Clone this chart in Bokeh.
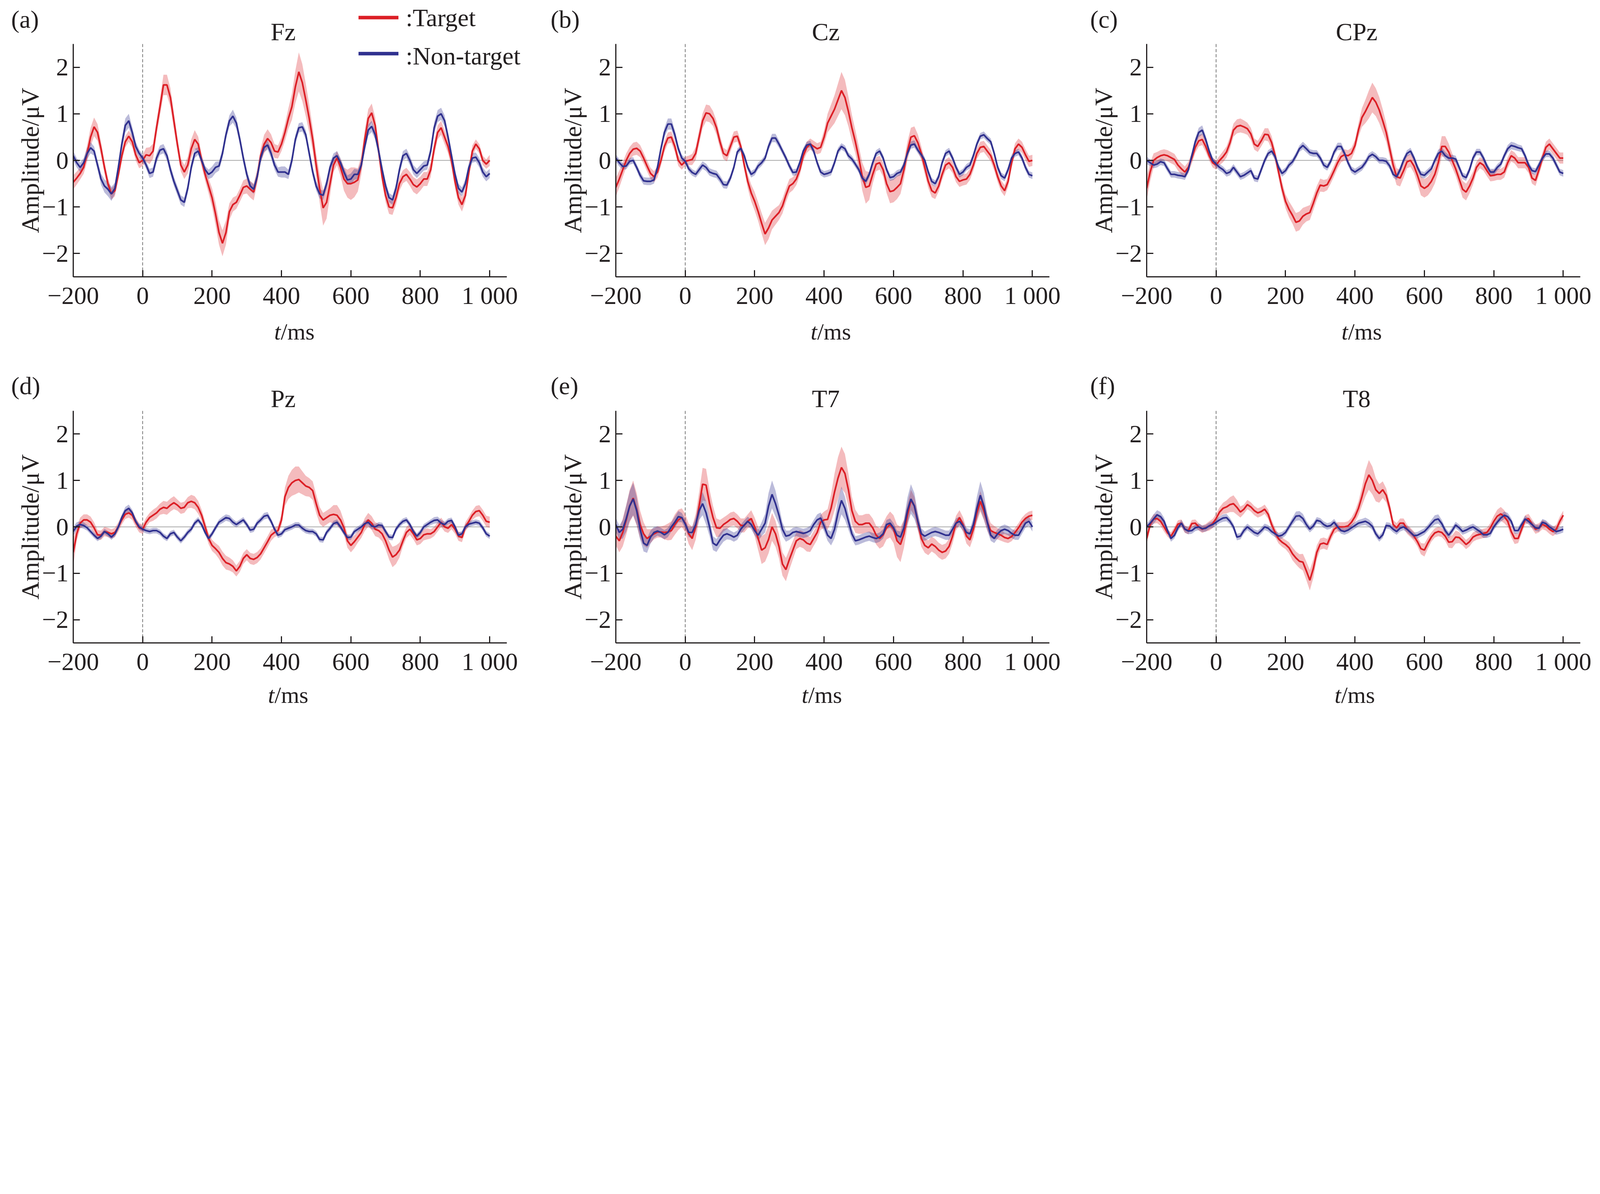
from bokeh.plotting import figure
from bokeh.models import Range1d, FixedTicker, Span, Label, Arrow, ColumnDataSource
from bokeh.layouts import column, row
from bokeh.embed import file_html
from bokeh.resources import INLINE

# ---------------- data ----------------
T_MS = list(range(-200, 1001, 10))
X_TICKS = [-200, 0, 200, 400, 600, 800, 1000]
X_TICK_LABELS = ["\u2212200", "0", "200", "400", "600", "800", "1 000"]
Y_TICKS = [-2, -1, 0, 1, 2]
Y_TICK_LABELS = ["\u22122", "\u22121", "0", "1", "2"]
CHANNELS = ["Fz", "Cz", "CPz", "Pz", "T7", "T8"]
LETTERS = ["(a)", "(b)", "(c)", "(d)", "(e)", "(f)"]
SERIES_NAMES = [":Target", ":Non-target"]

FZ_T = [-0.47,-0.38,-0.28,-0.15,0.15,0.50,0.72,0.60,0.25,-0.15,
        -0.50,-0.72,-0.65,-0.30,0.10,0.40,0.52,0.40,0.12,-0.05,
        0.00,0.12,0.10,0.20,0.70,1.15,1.62,1.62,1.35,0.85,
        0.35,-0.10,-0.25,-0.10,0.25,0.45,0.35,0.00,-0.30,-0.55,
        -0.80,-1.15,-1.55,-1.78,-1.55,-1.10,-0.95,-0.90,-0.75,-0.58,
        -0.55,-0.62,-0.68,-0.35,0.10,0.35,0.47,0.38,0.20,0.18,
        0.35,0.60,0.90,1.15,1.58,1.90,1.67,1.30,0.90,0.45,
        -0.10,-0.60,-1.02,-0.90,-0.50,-0.10,0.05,-0.15,-0.40,-0.50,
        -0.50,-0.47,-0.42,-0.10,0.45,0.90,1.02,0.75,0.20,-0.35,
        -0.75,-1.00,-1.02,-0.80,-0.50,-0.35,-0.30,-0.40,-0.52,-0.57,
        -0.50,-0.40,-0.40,-0.20,0.25,0.60,0.70,0.50,0.30,0.00,
        -0.45,-0.80,-0.95,-0.75,-0.25,0.20,0.35,0.25,0.00,-0.08,
        0.00]
FZ_N = [0.10,-0.05,-0.15,-0.05,0.15,0.27,0.20,-0.10,-0.40,-0.55,
        -0.62,-0.72,-0.60,-0.15,0.35,0.75,0.85,0.60,0.30,0.15,
        0.05,-0.10,-0.28,-0.25,0.05,0.22,0.25,0.10,-0.20,-0.45,
        -0.65,-0.85,-0.90,-0.60,-0.15,0.15,0.20,0.00,-0.20,-0.30,
        -0.25,-0.15,-0.12,0.15,0.55,0.85,0.95,0.80,0.45,0.05,
        -0.30,-0.55,-0.62,-0.35,0.05,0.28,0.33,0.15,-0.10,-0.25,
        -0.25,-0.25,-0.30,0.00,0.45,0.70,0.72,0.55,0.15,-0.25,
        -0.55,-0.72,-0.75,-0.50,-0.15,0.05,0.10,-0.05,-0.25,-0.42,
        -0.40,-0.30,-0.30,-0.10,0.30,0.65,0.73,0.55,0.20,-0.20,
        -0.55,-0.80,-0.85,-0.60,-0.20,0.10,0.15,0.00,-0.20,-0.28,
        -0.20,-0.12,-0.10,0.20,0.70,0.95,1.00,0.85,0.50,0.10,
        -0.30,-0.60,-0.68,-0.50,-0.15,0.05,0.07,-0.05,-0.25,-0.35,
        -0.28]
CZ_T = [-0.58,-0.40,-0.20,0.00,0.15,0.24,0.26,0.20,0.05,-0.12,
        -0.28,-0.35,-0.25,0.00,0.30,0.48,0.50,0.30,0.00,-0.10,
        -0.02,0.00,0.02,0.15,0.50,0.85,1.02,1.00,0.90,0.70,
        0.40,0.15,0.10,0.30,0.50,0.52,0.30,-0.10,-0.45,-0.70,
        -0.88,-1.10,-1.35,-1.58,-1.45,-1.28,-1.20,-1.12,-0.98,-0.75,
        -0.55,-0.50,-0.40,-0.20,0.10,0.28,0.35,0.30,0.25,0.28,
        0.50,0.80,0.95,1.10,1.30,1.50,1.35,1.05,0.70,0.40,
        0.05,-0.35,-0.58,-0.55,-0.30,-0.08,-0.05,-0.20,-0.50,-0.67,
        -0.65,-0.58,-0.50,-0.20,0.20,0.50,0.53,0.38,0.15,-0.15,
        -0.45,-0.65,-0.70,-0.55,-0.30,-0.10,-0.05,-0.15,-0.35,-0.45,
        -0.42,-0.40,-0.30,-0.10,0.15,0.28,0.30,0.20,0.10,-0.10,
        -0.35,-0.55,-0.65,-0.45,-0.05,0.25,0.35,0.28,0.12,-0.02,
        0.00]
CZ_N = [0.05,-0.05,-0.13,-0.12,-0.02,0.00,-0.15,-0.32,-0.44,-0.45,
        -0.45,-0.42,-0.15,0.25,0.60,0.78,0.78,0.55,0.25,0.05,
        -0.02,-0.18,-0.26,-0.30,-0.20,-0.10,-0.15,-0.25,-0.28,-0.30,
        -0.40,-0.52,-0.53,-0.38,-0.15,0.18,0.26,0.10,-0.15,-0.30,
        -0.25,-0.12,-0.05,0.05,0.30,0.48,0.48,0.35,0.20,0.05,
        -0.12,-0.26,-0.25,-0.05,0.20,0.33,0.35,0.20,-0.05,-0.25,
        -0.30,-0.28,-0.25,-0.05,0.20,0.30,0.25,0.10,0.03,-0.08,
        -0.20,-0.38,-0.45,-0.30,-0.05,0.15,0.20,0.05,-0.20,-0.37,
        -0.35,-0.28,-0.25,-0.10,0.15,0.33,0.35,0.22,0.12,0.00,
        -0.25,-0.45,-0.50,-0.35,-0.05,0.15,0.20,0.05,-0.15,-0.30,
        -0.25,-0.15,-0.10,0.10,0.35,0.52,0.55,0.47,0.40,0.15,
        -0.15,-0.33,-0.38,-0.20,0.05,0.15,0.18,0.05,-0.15,-0.30,
        -0.33]
CPZ_T = [-0.60,-0.25,0.00,0.06,0.10,0.12,0.10,0.06,0.02,-0.10,
         -0.18,-0.25,-0.15,0.05,0.28,0.42,0.45,0.30,0.10,-0.05,
         -0.10,0.00,0.08,0.18,0.38,0.65,0.73,0.75,0.72,0.68,
         0.57,0.35,0.30,0.42,0.56,0.55,0.38,0.10,-0.25,-0.60,
         -0.88,-1.05,-1.18,-1.33,-1.30,-1.20,-1.15,-1.12,-0.92,-0.70,
         -0.53,-0.55,-0.52,-0.38,-0.22,-0.05,0.08,0.12,0.10,0.15,
         0.32,0.65,0.92,1.05,1.20,1.35,1.25,1.08,0.85,0.60,
         0.25,-0.10,-0.35,-0.38,-0.22,-0.03,0.00,-0.12,-0.32,-0.55,
         -0.60,-0.55,-0.45,-0.30,-0.05,0.30,0.30,0.18,0.00,-0.18,
         -0.40,-0.62,-0.68,-0.55,-0.38,-0.15,-0.05,-0.10,-0.22,-0.33,
         -0.32,-0.30,-0.30,-0.25,-0.05,0.10,0.05,-0.05,-0.05,-0.05,
         -0.15,-0.38,-0.43,-0.20,0.05,0.28,0.35,0.25,0.15,0.05,
         0.05]
CPZ_N = [0.00,-0.05,-0.10,-0.08,-0.03,-0.05,-0.18,-0.30,-0.30,-0.32,
         -0.33,-0.35,-0.20,0.10,0.40,0.60,0.65,0.45,0.20,0.00,
         -0.08,-0.15,-0.20,-0.28,-0.25,-0.15,-0.25,-0.35,-0.32,-0.27,
         -0.22,-0.38,-0.40,-0.20,0.00,0.15,0.20,0.08,-0.15,-0.28,
         -0.22,-0.10,-0.03,0.10,0.25,0.32,0.25,0.17,0.15,0.15,
         0.05,-0.10,-0.15,-0.02,0.18,0.30,0.30,0.15,-0.05,-0.20,
         -0.25,-0.20,-0.15,-0.05,0.08,0.13,0.08,0.00,0.00,-0.02,
         -0.12,-0.30,-0.35,-0.20,0.00,0.15,0.20,0.05,-0.15,-0.30,
         -0.32,-0.25,-0.18,0.00,0.15,0.20,0.10,0.05,0.05,0.03,
         -0.15,-0.33,-0.37,-0.20,0.05,0.18,0.18,0.05,-0.12,-0.25,
         -0.25,-0.15,-0.08,0.10,0.25,0.32,0.30,0.27,0.25,0.10,
         -0.10,-0.22,-0.24,-0.10,0.05,0.14,0.14,0.05,-0.10,-0.25,
         -0.28]
PZ_T = [-0.55,-0.15,0.08,0.15,0.15,0.10,-0.02,-0.17,-0.18,-0.10,
        -0.12,-0.15,-0.12,0.00,0.15,0.27,0.30,0.25,0.10,-0.02,
        -0.05,0.10,0.20,0.25,0.30,0.38,0.42,0.40,0.47,0.52,
        0.47,0.40,0.42,0.52,0.55,0.52,0.42,0.25,0.00,-0.25,
        -0.40,-0.47,-0.55,-0.68,-0.77,-0.80,-0.85,-0.95,-0.85,-0.68,
        -0.60,-0.68,-0.70,-0.66,-0.58,-0.45,-0.32,-0.18,-0.12,-0.08,
        0.15,0.65,0.85,0.95,1.00,1.02,0.95,0.88,0.85,0.78,
        0.50,0.25,0.15,0.20,0.25,0.27,0.25,0.15,-0.02,-0.30,
        -0.40,-0.32,-0.22,-0.12,0.05,0.15,0.08,-0.05,-0.08,-0.15,
        -0.30,-0.50,-0.65,-0.60,-0.50,-0.30,-0.12,-0.05,-0.15,-0.28,
        -0.25,-0.17,-0.15,-0.15,-0.10,0.00,0.10,0.00,-0.03,0.05,
        -0.05,-0.20,-0.23,0.00,0.12,0.25,0.33,0.35,0.25,0.12,
        0.10]
PZ_N = [-0.10,0.02,0.05,0.03,-0.02,-0.10,-0.18,-0.25,-0.20,-0.10,
        -0.15,-0.22,-0.15,0.00,0.20,0.35,0.40,0.30,0.12,0.00,
        -0.05,-0.08,-0.10,-0.08,-0.08,-0.12,-0.20,-0.25,-0.15,-0.12,
        -0.22,-0.30,-0.22,-0.12,-0.05,0.08,0.15,0.05,-0.12,-0.25,
        -0.15,-0.02,0.10,0.15,0.20,0.18,0.10,0.05,0.10,0.15,
        0.05,-0.07,-0.05,0.08,0.15,0.23,0.25,0.12,-0.05,-0.18,
        -0.15,-0.06,-0.03,0.00,0.04,0.04,-0.03,-0.08,-0.10,-0.10,
        -0.15,-0.27,-0.28,-0.12,-0.03,0.07,0.10,0.00,-0.12,-0.23,
        -0.22,-0.10,-0.05,0.00,0.07,0.10,0.02,0.00,0.04,0.03,
        -0.10,-0.22,-0.23,-0.05,0.05,0.12,0.15,0.05,-0.10,-0.20,
        -0.12,0.00,0.05,0.10,0.14,0.15,0.08,0.05,0.12,0.14,
        0.00,-0.18,-0.15,0.00,0.06,0.08,0.10,0.08,-0.02,-0.15,
        -0.20]
T7_T = [-0.20,-0.30,-0.12,0.15,0.45,0.62,0.38,0.05,-0.15,-0.25,
        -0.20,-0.15,-0.11,-0.11,-0.12,-0.11,-0.08,0.05,0.15,0.20,
        0.08,-0.15,-0.25,0.00,0.45,0.92,0.90,0.50,0.20,-0.02,
        -0.03,0.05,0.10,0.16,0.18,0.12,0.03,0.03,0.12,0.18,
        0.00,-0.25,-0.50,-0.45,-0.27,0.00,-0.15,-0.42,-0.80,-0.92,
        -0.70,-0.50,-0.30,-0.25,-0.28,-0.35,-0.38,-0.25,-0.12,0.10,
        0.15,0.16,0.40,0.75,1.05,1.28,1.15,0.80,0.35,0.12,
        0.05,0.05,0.08,0.08,-0.02,-0.18,-0.25,-0.17,-0.02,0.05,
        -0.05,-0.30,-0.38,-0.15,0.25,0.58,0.45,0.10,-0.25,-0.40,
        -0.45,-0.37,-0.42,-0.50,-0.55,-0.52,-0.42,-0.20,0.08,0.20,
        0.05,-0.20,-0.28,-0.05,0.30,0.55,0.35,0.10,-0.08,-0.12,
        -0.15,-0.18,-0.23,-0.25,-0.21,-0.12,-0.02,0.10,0.18,0.23,
        0.25]
T7_N = [0.05,-0.12,-0.05,0.18,0.45,0.60,0.35,-0.05,-0.35,-0.40,
        -0.22,-0.12,-0.09,-0.12,-0.17,-0.12,0.00,0.10,0.22,0.20,
        0.06,-0.12,-0.12,0.05,0.35,0.50,0.30,0.00,-0.35,-0.40,
        -0.28,-0.18,-0.15,-0.18,-0.22,-0.18,-0.05,0.04,0.12,0.05,
        -0.08,-0.18,-0.05,0.08,0.45,0.70,0.50,0.25,-0.05,-0.20,
        -0.18,-0.12,-0.10,-0.12,-0.14,-0.12,-0.08,0.05,0.15,0.19,
        0.02,-0.18,-0.25,-0.05,0.30,0.57,0.40,0.12,-0.15,-0.30,
        -0.28,-0.25,-0.22,-0.20,-0.23,-0.25,-0.22,-0.15,0.05,0.08,
        -0.02,-0.18,-0.22,-0.02,0.35,0.60,0.45,0.12,-0.15,-0.20,
        -0.16,-0.12,-0.10,-0.12,-0.15,-0.18,-0.18,-0.05,0.08,0.12,
        0.02,-0.12,-0.15,0.05,0.40,0.68,0.45,0.10,-0.18,-0.25,
        -0.15,-0.08,-0.05,-0.08,-0.14,-0.18,-0.18,-0.05,0.08,0.12,
        0.00]
T8_T = [-0.25,0.05,0.17,0.18,0.12,0.00,-0.13,-0.20,-0.08,0.06,
        0.08,-0.05,-0.08,0.07,0.08,0.00,-0.05,-0.02,0.02,0.07,
        0.18,0.32,0.40,0.43,0.48,0.50,0.42,0.32,0.38,0.48,
        0.43,0.35,0.30,0.33,0.38,0.27,0.05,-0.12,-0.26,-0.33,
        -0.38,-0.45,-0.58,-0.67,-0.74,-0.76,-0.95,-1.15,-0.90,-0.55,
        -0.37,-0.35,-0.38,-0.20,-0.05,0.00,0.00,0.00,0.02,0.10,
        0.22,0.40,0.65,0.93,1.12,1.00,0.80,0.72,0.80,0.68,
        0.40,0.05,-0.02,0.08,0.08,-0.05,-0.12,-0.20,-0.32,-0.47,
        -0.50,-0.35,-0.22,-0.13,-0.10,-0.12,-0.20,-0.33,-0.32,-0.22,
        -0.23,-0.30,-0.38,-0.32,-0.22,-0.18,-0.16,-0.14,-0.12,-0.02,
        0.12,0.23,0.28,0.22,0.12,-0.10,-0.25,-0.25,-0.05,0.15,
        0.18,0.06,-0.05,-0.02,0.05,0.02,-0.05,-0.10,-0.05,0.12,
        0.25]
T8_N = [0.00,0.08,0.17,0.26,0.22,0.12,-0.08,-0.25,-0.18,-0.02,
        0.08,-0.05,-0.09,-0.08,-0.02,0.00,-0.04,-0.03,0.02,0.05,
        0.10,0.15,0.19,0.20,0.12,0.00,-0.22,-0.20,-0.08,0.00,
        -0.06,-0.12,-0.15,-0.08,0.00,-0.03,-0.10,-0.15,-0.20,-0.18,
        -0.12,0.00,0.12,0.23,0.24,0.18,0.05,-0.05,0.02,0.14,
        0.12,0.05,0.01,0.03,0.10,0.00,-0.08,-0.10,-0.07,-0.02,
        0.03,0.08,0.10,0.12,0.08,0.01,-0.15,-0.25,-0.17,0.03,
        0.02,-0.05,-0.10,-0.03,0.00,-0.05,-0.12,-0.19,-0.18,-0.14,
        -0.10,-0.02,0.07,0.15,0.17,0.07,-0.08,-0.18,-0.08,0.04,
        -0.02,-0.10,-0.07,-0.03,0.00,-0.05,-0.10,-0.17,-0.17,-0.14,
        0.00,0.10,0.19,0.25,0.22,0.12,-0.08,-0.08,0.05,0.17,
        0.12,0.05,-0.02,-0.03,0.10,0.07,0.00,-0.05,-0.10,-0.08,
        -0.05]

# standard-error half widths of the shaded bands
SE_FZ_T = [.15,.14,.13,.14,.18,.2,.2,.18,.15,.13,
           .12,.12,.12,.12,.12,.12,.12,.12,.12,.12,
           .12,.15,.18,.16,.16,.18,.22,.22,.2,.18,
           .15,.14,.15,.18,.2,.2,.16,.14,.14,.16,
           .2,.24,.26,.28,.26,.18,.15,.14,.14,.15,
           .16,.18,.18,.15,.15,.2,.2,.18,.15,.14,
           .15,.18,.22,.28,.35,.42,.4,.35,.3,.25,
           .25,.3,.38,.35,.25,.15,.15,.18,.25,.3,
           .35,.32,.25,.2,.2,.2,.2,.18,.15,.15,
           .15,.15,.15,.15,.15,.14,.14,.15,.16,.16,
           .15,.15,.15,.15,.15,.15,.15,.15,.15,.15,
           .15,.15,.15,.13,.12,.12,.1,.1,.1,.1,
           .12]
SE_FZ_N = [.1,.1,.1,.1,.12,.12,.1,.1,.12,.14,
           .15,.15,.12,.1,.12,.15,.15,.12,.1,.08,
           .08,.08,.1,.1,.1,.1,.1,.1,.1,.1,
           .1,.1,.1,.1,.1,.1,.08,.08,.08,.1,
           .12,.12,.1,.1,.1,.12,.14,.12,.1,.1,
           .1,.1,.1,.1,.1,.1,.1,.1,.1,.1,
           .12,.12,.1,.1,.1,.1,.1,.1,.1,.1,
           .1,.1,.1,.1,.1,.1,.1,.1,.1,.1,
           .12,.12,.1,.1,.1,.12,.12,.1,.1,.1,
           .1,.1,.1,.1,.1,.1,.1,.1,.1,.1,
           .1,.1,.1,.1,.12,.13,.13,.12,.1,.1,
           .1,.1,.1,.1,.1,.1,.1,.1,.1,.1,
           .1]
SE_CZ_T = [.2,.18,.16,.15,.14,.14,.14,.13,.12,.12,
           .12,.12,.12,.12,.12,.12,.12,.12,.12,.1,
           .1,.1,.12,.14,.15,.16,.18,.18,.16,.15,
           .14,.12,.12,.12,.12,.12,.12,.12,.15,.18,
           .2,.2,.22,.24,.24,.2,.18,.16,.16,.15,
           .15,.14,.13,.12,.12,.12,.12,.12,.12,.12,
           .15,.2,.25,.3,.35,.4,.38,.32,.28,.25,
           .25,.3,.35,.3,.2,.15,.15,.15,.2,.25,
           .25,.25,.22,.2,.2,.2,.2,.18,.15,.15,
           .14,.14,.13,.12,.12,.12,.12,.12,.12,.12,
           .12,.12,.12,.12,.12,.12,.12,.12,.12,.12,
           .12,.12,.12,.12,.12,.12,.12,.12,.12,.12,
           .12]
SE_CZ_N = [.08,.08,.07,.07,.07,.07,.07,.08,.08,.08,
           .08,.08,.08,.08,.1,.12,.12,.1,.08,.07,
           .07,.07,.07,.07,.08,.08,.08,.08,.08,.08,
           .08,.08,.08,.07,.07,.07,.07,.07,.07,.07,
           .07,.07,.07,.07,.08,.09,.09,.08,.07,.07,
           .07,.07,.07,.07,.07,.07,.07,.07,.07,.07,
           .07,.07,.07,.07,.07,.07,.07,.07,.07,.07,
           .07,.07,.07,.07,.07,.07,.07,.07,.07,.07,
           .07,.07,.07,.07,.07,.08,.08,.07,.07,.07,
           .07,.07,.07,.07,.07,.07,.07,.07,.07,.07,
           .07,.07,.07,.07,.07,.07,.07,.07,.07,.07,
           .07,.07,.07,.07,.07,.07,.07,.07,.07,.07,
           .07]
SE_CPZ_T = [.25,.2,.15,.12,.12,.12,.12,.12,.12,.12,
            .12,.12,.12,.12,.12,.12,.12,.12,.1,.1,
            .1,.1,.12,.12,.13,.14,.15,.15,.14,.13,
            .13,.12,.12,.12,.13,.14,.14,.13,.13,.14,
            .15,.17,.18,.2,.2,.18,.16,.16,.15,.15,
            .14,.13,.12,.12,.12,.12,.12,.12,.12,.12,
            .12,.15,.2,.25,.3,.32,.3,.28,.25,.2,
            .18,.18,.18,.18,.16,.14,.14,.15,.18,.2,
            .2,.2,.2,.2,.2,.22,.22,.18,.15,.15,
            .16,.18,.18,.16,.14,.12,.12,.12,.12,.12,
            .12,.12,.12,.12,.12,.12,.12,.12,.12,.12,
            .12,.12,.12,.12,.12,.12,.12,.12,.12,.12,
            .12]
SE_CPZ_N = [.08,.07,.07,.07,.07,.07,.07,.07,.07,.07,
            .07,.07,.07,.07,.08,.1,.1,.08,.07,.07,
            .07,.07,.07,.07,.07,.07,.07,.07,.07,.07,
            .07,.07,.07,.07,.07,.07,.07,.07,.07,.07,
            .07,.07,.07,.07,.07,.08,.08,.07,.07,.07,
            .07,.07,.07,.07,.07,.08,.08,.07,.07,.07,
            .07,.07,.07,.07,.07,.07,.07,.07,.07,.07,
            .07,.07,.07,.07,.07,.07,.07,.07,.07,.07,
            .07,.07,.07,.07,.08,.08,.08,.07,.07,.07,
            .07,.07,.07,.07,.07,.07,.07,.07,.07,.07,
            .07,.07,.07,.07,.08,.08,.08,.07,.07,.07,
            .07,.07,.07,.07,.07,.07,.07,.07,.07,.07,
            .07]
SE_PZ_T = [.3,.15,.12,.12,.12,.12,.12,.1,.1,.1,
           .1,.1,.1,.1,.1,.1,.1,.1,.1,.1,
           .1,.1,.1,.12,.12,.12,.14,.14,.14,.14,
           .12,.12,.12,.12,.14,.14,.14,.12,.12,.12,
           .12,.12,.14,.15,.15,.14,.13,.12,.12,.12,
           .12,.12,.12,.12,.12,.12,.12,.12,.1,.1,
           .12,.2,.25,.28,.3,.28,.25,.22,.2,.2,
           .2,.18,.15,.15,.15,.2,.22,.2,.15,.15,
           .15,.14,.12,.12,.14,.15,.15,.15,.15,.16,
           .18,.2,.22,.2,.16,.12,.12,.12,.12,.12,
           .12,.12,.12,.1,.1,.1,.1,.1,.1,.1,
           .1,.1,.1,.1,.1,.1,.12,.12,.12,.12,
           .12]
SE_PZ_N = [.1,.08,.07,.07,.06,.06,.06,.06,.06,.06,
           .06,.06,.06,.06,.07,.08,.08,.07,.06,.06,
           .06,.06,.06,.06,.06,.06,.06,.06,.06,.06,
           .06,.06,.06,.06,.06,.06,.06,.06,.06,.06,
           .06,.06,.06,.07,.07,.07,.07,.06,.06,.06,
           .06,.06,.06,.06,.06,.07,.07,.06,.06,.06,
           .06,.06,.06,.06,.06,.06,.06,.06,.06,.06,
           .06,.06,.06,.06,.06,.06,.06,.06,.06,.06,
           .06,.06,.06,.06,.06,.07,.07,.06,.06,.06,
           .06,.06,.06,.06,.06,.06,.06,.06,.06,.06,
           .06,.06,.06,.06,.07,.07,.07,.06,.06,.06,
           .06,.06,.06,.06,.06,.06,.06,.06,.06,.06,
           .06]
SE_T7_T = [.2,.25,.3,.32,.35,.38,.35,.3,.25,.2,
           .15,.12,.12,.12,.15,.18,.2,.22,.22,.2,
           .2,.22,.25,.28,.3,.35,.35,.3,.25,.2,
           .18,.15,.15,.15,.15,.15,.15,.15,.15,.18,
           .2,.25,.3,.3,.3,.3,.28,.26,.25,.25,
           .22,.2,.18,.18,.18,.18,.16,.16,.16,.16,
           .18,.22,.3,.4,.45,.45,.42,.35,.3,.25,
           .2,.2,.2,.2,.2,.2,.22,.25,.25,.28,
           .3,.35,.38,.3,.25,.22,.2,.18,.18,.16,
           .16,.16,.16,.16,.16,.16,.16,.16,.16,.16,
           .16,.16,.16,.18,.2,.22,.2,.18,.16,.14,
           .12,.12,.1,.1,.1,.1,.1,.1,.1,.1,
           .1]
SE_T7_N = [.15,.15,.2,.28,.32,.35,.3,.22,.18,.16,
           .14,.12,.1,.1,.1,.1,.1,.12,.12,.1,
           .1,.1,.12,.15,.2,.25,.25,.2,.15,.14,
           .14,.14,.12,.1,.1,.1,.1,.1,.1,.1,
           .1,.12,.15,.2,.28,.3,.28,.2,.15,.12,
           .1,.1,.1,.1,.1,.1,.1,.1,.12,.12,
           .12,.12,.15,.2,.28,.3,.25,.18,.12,.1,
           .1,.1,.1,.1,.1,.1,.1,.1,.1,.1,
           .1,.1,.12,.18,.28,.32,.28,.18,.12,.1,
           .1,.1,.1,.1,.1,.1,.1,.1,.1,.1,
           .1,.1,.1,.15,.25,.3,.28,.18,.12,.1,
           .1,.1,.1,.1,.1,.1,.1,.1,.1,.1,
           .1]
SE_T8_T = [.12,.1,.1,.1,.1,.1,.08,.08,.08,.08,
           .08,.08,.08,.08,.08,.08,.08,.08,.1,.1,
           .1,.1,.12,.14,.16,.18,.16,.12,.1,.1,
           .1,.1,.1,.1,.1,.1,.1,.1,.1,.1,
           .1,.12,.14,.14,.15,.18,.2,.22,.2,.15,
           .12,.12,.12,.1,.1,.1,.1,.1,.1,.1,
           .12,.15,.2,.28,.32,.3,.25,.2,.18,.15,
           .12,.1,.1,.1,.1,.1,.1,.1,.1,.12,
           .14,.12,.1,.1,.1,.1,.1,.12,.14,.14,
           .12,.1,.1,.1,.1,.1,.1,.1,.1,.1,
           .12,.14,.15,.14,.12,.12,.12,.1,.1,.1,
           .1,.1,.1,.1,.1,.1,.1,.1,.1,.1,
           .1]
SE_T8_N = [.07,.08,.1,.1,.1,.08,.07,.07,.07,.07,
           .07,.07,.07,.07,.07,.07,.07,.07,.07,.07,
           .07,.07,.08,.08,.07,.07,.07,.07,.07,.07,
           .07,.07,.07,.07,.07,.07,.07,.07,.07,.07,
           .07,.07,.08,.1,.1,.1,.08,.07,.07,.07,
           .07,.07,.07,.07,.07,.07,.07,.07,.07,.07,
           .07,.07,.07,.08,.08,.08,.07,.07,.07,.07,
           .07,.07,.07,.07,.07,.07,.07,.07,.07,.07,
           .07,.07,.08,.1,.1,.08,.07,.07,.07,.07,
           .07,.07,.07,.07,.07,.07,.07,.07,.07,.07,
           .07,.07,.08,.08,.08,.07,.07,.07,.07,.07,
           .07,.07,.07,.07,.07,.07,.07,.07,.07,.07,
           .07]

TARGET = [FZ_T, CZ_T, CPZ_T, PZ_T, T7_T, T8_T]
NONTARGET = [FZ_N, CZ_N, CPZ_N, PZ_N, T7_N, T8_N]
SE_TARGET = [SE_FZ_T, SE_CZ_T, SE_CPZ_T, SE_PZ_T, SE_T7_T, SE_T8_T]
SE_NONTARGET = [SE_FZ_N, SE_CZ_N, SE_CPZ_N, SE_PZ_N, SE_T7_N, SE_T8_N]

for arr in TARGET + NONTARGET + SE_TARGET + SE_NONTARGET:
    assert len(arr) == len(T_MS), len(arr)

# ---------------- style / layout (CSS px) ----------------
FONT = "Liberation Serif"
INK = "#231f20"
RED = "#dc1f26"
BLUE = "#30318f"
TXT = 64                            # panel letters, titles, legend, tick labels
AXT = 60                            # x axis title
YAXT = 64                           # y axis title
BASE_FIX = 0.22                     # Label draws its alphabetic baseline this many em low

COL_W = [1352, 1375, 1351]          # column widths
COL_L = [187, 224, 208]             # left border (y axis + labels)
X_END = [1100, 1049, 1049, 1100, 1049, 1049]   # panel (a) is wider on the right for its legend
FRAME_W = 1110                      # frame width for -200..1049 ms
HEAD_H = [112, 156]                 # band above each frame
FRAME_H = [596, 594]
MAIN_B = [100, 92]                  # space for the x tick labels
FOOT_H = [87, 86]                   # band holding the "t/ms" label
LETTER_X = [-379, -388, -363]       # ms
LETTER_Y = [49, 50]                 # baseline, px above frame top
TITLE_Y = [17, 17]
XLAB_Y = [33, 31]                   # baseline, px above the band bottom
TITLE_X = 405
XLAB_X = [398, 380, 380, 380, 354, 360]
LEG_X = (622, 737, 758)             # legend line start/end, text start (ms)


def band_figure(w, h, x0, x1):
    f = figure(width=w, height=h, x_range=Range1d(x0, x1), y_range=Range1d(0, h),
               x_axis_type=None, y_axis_type=None, output_backend="svg",
               toolbar_location=None, min_border=0, frame_align=False)
    f.grid.visible = False
    f.outline_line_color = None
    f.background_fill_color = "white"
    f.border_fill_color = "white"
    return f


def text(x, y, s, size, align="left", style="normal", per_px=1.0):
    # y is the wanted baseline; shift up to compensate the renderer offset
    return Label(x=x, y=y + BASE_FIX * size * per_px, text=s, text_font=FONT,
                 text_font_size=f"{size}px", text_font_style=style, text_color=INK,
                 text_align=align, text_baseline="alphabetic", text_line_height=1.0)


def make_panel(i):
    r, c = divmod(i, 3)
    W, L = COL_W[c], COL_L[c]
    ppm = FRAME_W / 1249.0
    frame_w = round((X_END[i] + 200) * ppm)
    R = W - L - frame_w
    x0 = -200 - L / ppm
    x1 = X_END[i] + R / ppm

    # ---- main plot ----
    p = figure(width=W, height=FRAME_H[r] + MAIN_B[r],
               x_range=Range1d(-200, X_END[i]), y_range=Range1d(-2.5, 2.5),
               output_backend="svg", toolbar_location=None, frame_align=False,
               min_border_left=L, min_border_right=R,
               min_border_top=0, min_border_bottom=MAIN_B[r])
    p.grid.visible = False
    p.outline_line_color = None
    p.background_fill_color = "white"
    p.border_fill_color = "white"
    for ax in (p.xaxis, p.yaxis):
        ax.axis_line_width = 3
        ax.axis_line_color = INK
        ax.major_tick_line_width = 3
        ax.major_tick_line_color = INK
        ax.major_tick_in = 17
        ax.major_tick_out = 0
        ax.minor_tick_in = 0
        ax.minor_tick_out = 0
        ax.major_label_text_font = FONT
        ax.major_label_text_font_size = f"{TXT}px"
        ax.major_label_text_color = INK
    p.xaxis.ticker = FixedTicker(ticks=X_TICKS)
    p.xaxis.major_label_overrides = dict(zip(X_TICKS, X_TICK_LABELS))
    p.xaxis.major_label_standoff = 12
    p.xaxis.bounds = (-200, 1049)
    p.yaxis.ticker = FixedTicker(ticks=Y_TICKS)
    p.yaxis.major_label_overrides = dict(zip(Y_TICKS, Y_TICK_LABELS))
    p.yaxis.major_label_standoff = 12
    p.yaxis.axis_label = "Amplitude/\u03bcV"
    p.yaxis.axis_label_text_font = FONT
    p.yaxis.axis_label_text_font_size = f"{YAXT}px"
    p.yaxis.axis_label_text_font_style = "normal"
    p.yaxis.axis_label_text_color = INK
    p.yaxis.axis_label_standoff = -9

    tgt, non = TARGET[i], NONTARGET[i]
    se_t, se_n = SE_TARGET[i], SE_NONTARGET[i]
    src = ColumnDataSource(dict(
        t=T_MS, tgt=tgt, non=non,
        t_lo=[m - s for m, s in zip(tgt, se_t)], t_hi=[m + s for m, s in zip(tgt, se_t)],
        n_lo=[m - s for m, s in zip(non, se_n)], n_hi=[m + s for m, s in zip(non, se_n)],
    ))
    p.segment(x0=T_MS[0], x1=T_MS[-1], y0=0, y1=0, line_color="#a8a8a8", line_width=1.8)
    p.add_layout(Span(location=0, dimension="height", line_color="#6b6b6b",
                      line_width=1.8, line_dash="8 5", level="underlay"))
    p.varea(x="t", y1="t_lo", y2="t_hi", source=src, fill_color=RED, fill_alpha=0.3)
    p.varea(x="t", y1="n_lo", y2="n_hi", source=src, fill_color=BLUE, fill_alpha=0.33)
    p.line(x="t", y="tgt", source=src, line_color=RED, line_width=4.2)
    p.line(x="t", y="non", source=src, line_color=BLUE, line_width=4.2)

    # ---- band above: panel letter, channel name, (legend) ----
    head = band_figure(W, HEAD_H[r], x0, x1)
    head.add_layout(text(LETTER_X[c], LETTER_Y[r], LETTERS[i], TXT))
    head.add_layout(text(TITLE_X, TITLE_Y[r], CHANNELS[i], TXT, align="center"))

    if i == 0:
        units = 5.0 / FRAME_H[r]    # data units per px in the main frame
        head.add_layout(Arrow(end=None, start=None, x_start=LEG_X[0], x_end=LEG_X[1],
                              y_start=67.5, y_end=67.5, line_color=RED, line_width=9))
        head.add_layout(text(LEG_X[2], 52.5, SERIES_NAMES[0], TXT))
        p.add_layout(Arrow(end=None, start=None, x_start=LEG_X[0], x_end=LEG_X[1],
                           y_start=2.293, y_end=2.293, line_color=BLUE, line_width=9))
        p.add_layout(text(LEG_X[2], 2.12, SERIES_NAMES[1], TXT, per_px=units))

    # ---- band below: x axis title ----
    foot = band_figure(W, FOOT_H[r], x0, x1)
    foot.add_layout(text(XLAB_X[i], XLAB_Y[r], "t", AXT, align="right", style="italic"))
    foot.add_layout(text(XLAB_X[i], XLAB_Y[r], "/ms", AXT, align="left"))
    return column(head, p, foot)


panels = [make_panel(i) for i in range(6)]
layout = column(row(*panels[:3]), row(*panels[3:]))
open("out.html", "w").write(file_html(layout, INLINE))
